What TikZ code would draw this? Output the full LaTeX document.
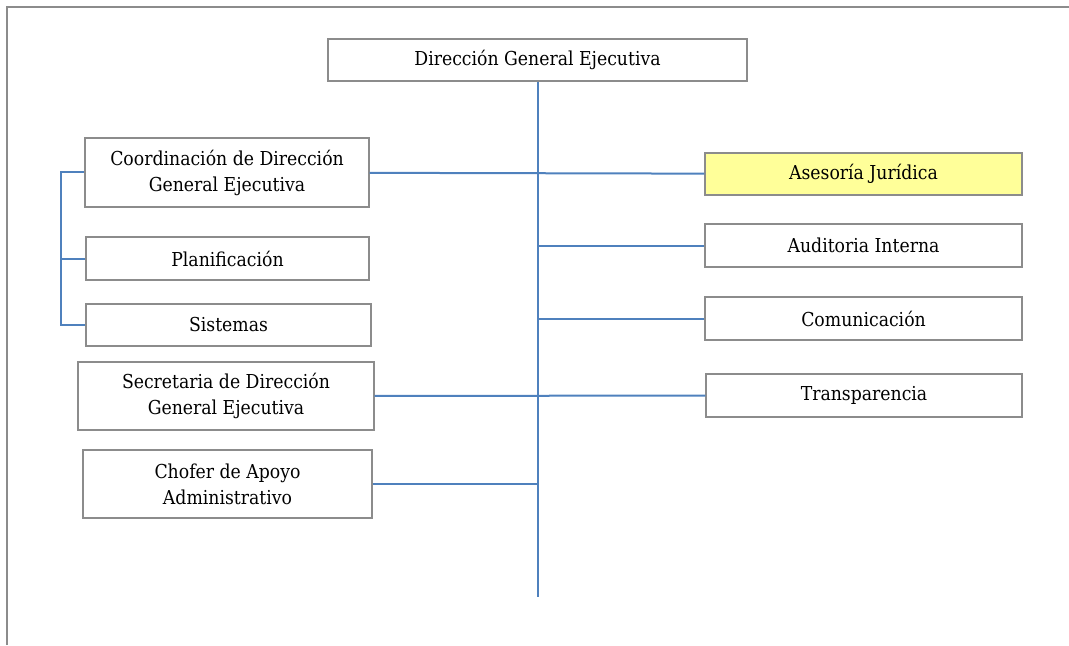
\documentclass[tikz,border=0pt]{standalone}
\usepackage{fontspec}
\setmainfont{DejaVu Serif Condensed}
\definecolor{boxgray}{HTML}{8C8C8C}
\definecolor{linkblue}{HTML}{4F81BD}
\definecolor{hiyellow}{HTML}{FFFF99}
\begin{document}
\begin{tikzpicture}[x=0.75pt,y=-0.75pt,
    every node/.style={draw=boxgray,line width=1.1pt,fill=white,rectangle,align=center,font=\fontsize{14.4}{19.5}\selectfont,inner sep=0pt},
    link/.style={linkblue,line width=1.5pt}]
    \useasboundingbox (0,0) rectangle (1069,645);
    \draw[boxgray,line width=1.3pt] (7,645) -- (7,7) -- (1069,7);
    \node[minimum width=419*0.75pt,minimum height=42*0.75pt] at (537.5,60) (dge) {Dirección General Ejecutiva};
    \node[minimum width=284*0.75pt,minimum height=69*0.75pt] at (227,172.5) (coord) {Coordinación de Dirección\\General Ejecutiva};
    \node[minimum width=283*0.75pt,minimum height=43*0.75pt] at (227.5,258.5) (plan) {Planificación};
    \node[minimum width=285*0.75pt,minimum height=42*0.75pt] at (228.5,325) (sist) {Sistemas};
    \node[minimum width=296*0.75pt,minimum height=68*0.75pt] at (226,396) (secr) {Secretaria de Dirección\\General Ejecutiva};
    \node[minimum width=289*0.75pt,minimum height=68*0.75pt] at (227.5,484) (chof) {Chofer de Apoyo\\Administrativo};
    \node[fill=hiyellow,minimum width=317*0.75pt,minimum height=42*0.75pt] at (863.5,174) (ases) {Asesoría Jurídica};
    \node[minimum width=317*0.75pt,minimum height=43*0.75pt] at (863.5,245.5) (audi) {Auditoria Interna};
    \node[minimum width=317*0.75pt,minimum height=43*0.75pt] at (863.5,318.5) (comu) {Comunicación};
    \node[minimum width=316*0.75pt,minimum height=43*0.75pt] at (864,395.5) (tran) {Transparencia};
    \coordinate (tronco) at (537,597);
    \coordinate (brk) at (61,0);
    \draw[link] (dge) -- (dge |- tronco);
    \draw[link] (coord) -- (ases);
    \draw[link] (secr) -- (tran);
    \draw[link] (audi) -- (audi -| tronco);
    \draw[link] (comu) -- (comu -| tronco);
    \draw[link] (chof) -- (chof -| tronco);
    \draw[link] (coord.west) -- (coord.west -| brk) |- (sist.west);
    \draw[link] (plan.west) -- (plan.west -| brk);
\end{tikzpicture}
\end{document}
